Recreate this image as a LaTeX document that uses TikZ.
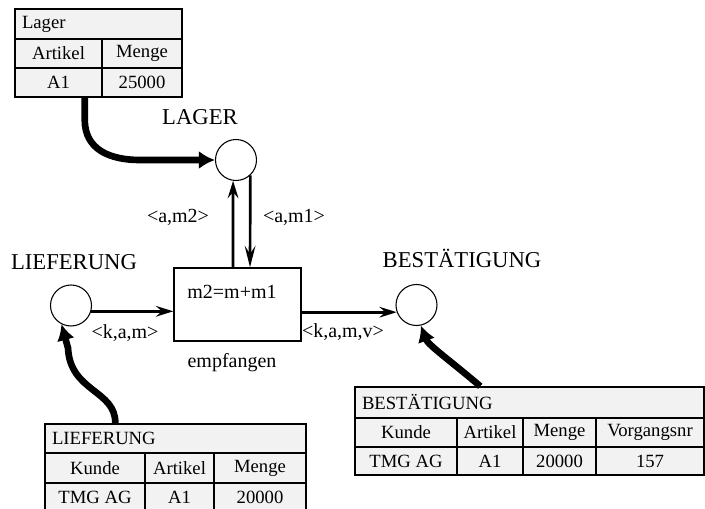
\documentclass[tikz,border=0pt]{standalone}
\usepackage{fontspec}
\setmainfont{Liberation Serif}
\usetikzlibrary{arrows.meta,calc}
\definecolor{tabfill}{RGB}{242,242,242}
\begin{document}
\begin{tikzpicture}[x=0.75pt,y=-0.75pt,
  cell/.style={draw, line width=1.1pt, fill=tabfill, inner sep=0pt, font=\fontsize{14}{16}\selectfont},
  hdr/.style={cell, align=left, inner xsep=5.25pt},
  place/.style={circle, draw, line width=0.8pt, minimum size=30.75pt, inner sep=0pt},
  trans/.style={draw, line width=1.1pt, minimum width=95.25pt, minimum height=54.75pt, inner sep=0pt},
  plabel/.style={font=\fontsize{17}{20}\selectfont},
  alabel/.style={font=\fontsize{15}{18}\selectfont},
  thin arc/.style={line width=2pt, -{Stealth[length=13pt,width=8pt,inset=4.5pt]}},
  thick arc/.style={line width=5pt, -{Latex[length=12pt,width=13.5pt]}}
]
\useasboundingbox (0,0) rectangle (705,509);

% Lager table
\node[hdr, minimum width=125.25pt, minimum height=22.5pt, text width=114.75pt] (lagerH) at (98.5,24) {Lager};
\node[cell, minimum width=65.25pt, minimum height=21.75pt] (lagerK) at (58.5,53.5) {Artikel};
\node[cell, minimum width=60pt, minimum height=21.75pt] (lagerM) at (142,53.5) {Menge};
\node[cell, minimum width=65.25pt, minimum height=21.75pt] (lagerA) at (58.5,82.5) {A1};
\node[cell, minimum width=60pt, minimum height=21.75pt] (lagerV) at (142,82.5) {25000};

% LIEFERUNG table
\node[hdr, minimum width=195.75pt, minimum height=21.75pt, text width=185.25pt] (liefH) at (175.5,438.5) {LIEFERUNG};
\node[cell, minimum width=75pt, minimum height=22.5pt] (liefK) at (95,468) {Kunde};
\node[cell, minimum width=51.75pt, minimum height=22.5pt] (liefA) at (179.5,468) {Artikel};
\node[cell, minimum width=69pt, minimum height=22.5pt] (liefM) at (260,468) {Menge};
\node[cell, minimum width=75pt, minimum height=21.75pt] (liefK2) at (95,497.5) {TMG AG};
\node[cell, minimum width=51.75pt, minimum height=21.75pt] (liefA2) at (179.5,497.5) {A1};
\node[cell, minimum width=69pt, minimum height=21.75pt] (liefM2) at (260,497.5) {20000};

% BESTAETIGUNG table
\node[hdr, minimum width=261.75pt, minimum height=23.25pt, text width=251.25pt] (bestH) at (529.5,402.5) {BESTÄTIGUNG};
\node[cell, minimum width=76.5pt, minimum height=21.75pt] (bestK) at (406,432.5) {Kunde};
\node[cell, minimum width=49.5pt, minimum height=21.75pt] (bestA) at (490,432.5) {Artikel};
\node[cell, minimum width=54.75pt, minimum height=21.75pt] (bestM) at (559.5,432.5) {Menge};
\node[cell, minimum width=81pt, minimum height=21.75pt] (bestV) at (650,432.5) {Vorgangsnr};
\node[cell, minimum width=76.5pt, minimum height=21pt] (bestK2) at (406,461) {TMG AG};
\node[cell, minimum width=49.5pt, minimum height=21pt] (bestA2) at (490,461) {A1};
\node[cell, minimum width=54.75pt, minimum height=21pt] (bestM2) at (559.5,461) {20000};
\node[cell, minimum width=81pt, minimum height=21pt] (bestV2) at (650,461) {157};

% places
\node[place] (lager) at (236,160) {};
\node[place] (lief) at (71,305.5) {};
\node[place] (best) at (416.5,305) {};
\node[plabel] (lagerL) at (200,117) {LAGER};
\node[plabel] (liefL) at (74,262) {LIEFERUNG};
\node[plabel] (bestL) at (462,258) {BESTÄTIGUNG};

% transition
\node[trans] (box) at (237.5,304.5) {};
\node[alabel] (formula) at (232,292) {m2=m+m1};
\node[alabel] (tname) at (232,363) {empfangen};

% thin arcs
\draw[thin arc] ($(box.north)+(-4.5,0)$) -- (lager.262);
\draw[thin arc, -{Stealth[length=16pt,width=8pt,inset=6pt]}] (lager.313) -- ($(box.north)+(12.5,0)$);
\draw[thin arc] (lief.-16) -- (lief.-16 -| box.west);
\draw[thin arc] (box.east |- best.200) -- (best.200);

% arc labels
\node[alabel] (am2) at (178,217) {<a,m2>};
\node[alabel] (am1) at (294,217) {<a,m1>};
\node[alabel] (kam) at (125,333) {<k,a,m>};
\node[alabel] (kamv) at (343,332) {<k,a,m,v>};

% thick arcs
\draw[thick arc] ($(lagerA.south east)+(-18,0)$) -- ++(0,22) .. controls +(0,30) and (110,160) .. (140,160) -- (lager.west);
\draw[thick arc] ($(liefH.north west)+(71,0)$) .. controls (116,390) and (70,392) .. (68,348) -- (lief.243);
\draw[thick arc] ($(bestH.north west)+(126,0)$) .. controls (452,362) and (428,345) .. (best.282);
\end{tikzpicture}
\end{document}
